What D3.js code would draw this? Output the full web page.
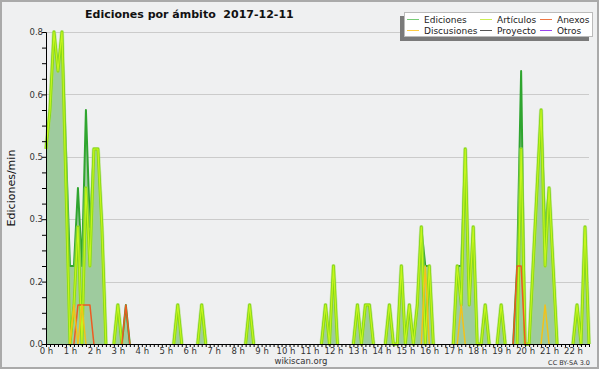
<!DOCTYPE html>
<html>
<head>
<meta charset="utf-8">
<script src="https://cdn.jsdelivr.net/npm/d3@7"></script>
<style>
  body { margin: 0; background: #fff; }
  svg { display: block; font-family: 'DejaVu Sans', sans-serif; }
</style>
</head>
<body>
<div class="chart_container"></div>
<script>
'use strict';

// edits per minute, one value per 10 minute bin, one row per hour (0 h .. 22 h)
const ediciones = [
  0.5, 0.6, 0.8, 0.7, 0.8, 0.5,
  0.2, 0.2, 0.4, 0.2, 0.6, 0.3,
  0.5, 0.5, 0.3, 0, 0, 0,
  0.1, 0, 0.1, 0, 0, 0,
  0, 0, 0, 0, 0, 0,
  0, 0, 0, 0.1, 0, 0,
  0, 0, 0, 0.1, 0, 0,
  0, 0, 0, 0, 0, 0,
  0, 0, 0, 0.1, 0, 0,
  0, 0, 0, 0, 0, 0,
  0, 0, 0, 0, 0, 0,
  0, 0, 0, 0, 0.1, 0,
  0.2, 0, 0, 0, 0, 0,
  0.1, 0, 0.1, 0.1, 0, 0,
  0, 0, 0.1, 0, 0, 0.2,
  0, 0.1, 0, 0.1, 0.3, 0.2,
  0.2, 0, 0, 0, 0, 0,
  0, 0.2, 0.2, 0.5, 0.1, 0.3,
  0, 0, 0.1, 0, 0, 0,
  0.1, 0, 0, 0, 0.2, 0.7,
  0, 0, 0.2, 0.4, 0.6, 0.3,
  0.4, 0.2, 0, 0, 0, 0,
  0, 0.1, 0, 0.3, 0
];

const articulos = [
  0.5, 0.6, 0.8, 0.7, 0.8, 0.4,
  0, 0.1, 0.3, 0, 0.4, 0.2,
  0.5, 0.5, 0.3, 0, 0, 0,
  0.1, 0, 0, 0, 0, 0,
  0, 0, 0, 0, 0, 0,
  0, 0, 0, 0.1, 0, 0,
  0, 0, 0, 0.1, 0, 0,
  0, 0, 0, 0, 0, 0,
  0, 0, 0, 0.1, 0, 0,
  0, 0, 0, 0, 0, 0,
  0, 0, 0, 0, 0, 0,
  0, 0, 0, 0, 0.1, 0,
  0.2, 0, 0, 0, 0, 0,
  0.1, 0, 0.1, 0.1, 0, 0,
  0, 0, 0.1, 0, 0, 0.2,
  0, 0.1, 0, 0.1, 0.3, 0,
  0.2, 0, 0, 0, 0, 0,
  0, 0.2, 0.1, 0.5, 0.1, 0.3,
  0, 0, 0.1, 0, 0, 0,
  0.1, 0, 0, 0, 0, 0.5,
  0, 0, 0.2, 0.4, 0.6, 0.2,
  0.4, 0.2, 0, 0, 0, 0,
  0, 0.1, 0, 0.3, 0
];

const anexos = [
  0, 0, 0, 0, 0, 0,
  0, 0, 0.1, 0.1, 0.1, 0.1,
  0, 0, 0, 0, 0, 0,
  0, 0, 0.1, 0, 0, 0,
  0, 0, 0, 0, 0, 0,
  0, 0, 0, 0, 0, 0,
  0, 0, 0, 0, 0, 0,
  0, 0, 0, 0, 0, 0,
  0, 0, 0, 0, 0, 0,
  0, 0, 0, 0, 0, 0,
  0, 0, 0, 0, 0, 0,
  0, 0, 0, 0, 0, 0,
  0, 0, 0, 0, 0, 0,
  0, 0, 0, 0, 0, 0,
  0, 0, 0, 0, 0, 0,
  0, 0, 0, 0, 0, 0,
  0, 0, 0, 0, 0, 0,
  0, 0, 0, 0, 0, 0,
  0, 0, 0, 0, 0, 0,
  0, 0, 0, 0, 0.2, 0.2,
  0, 0, 0, 0, 0, 0,
  0, 0, 0, 0, 0, 0,
  0, 0, 0, 0, 0
];

const discusiones = [
  0, 0, 0, 0, 0, 0,
  0, 0.1, 0, 0.1, 0, 0,
  0, 0, 0, 0, 0, 0,
  0, 0, 0, 0, 0, 0,
  0, 0, 0, 0, 0, 0,
  0, 0, 0, 0, 0, 0,
  0, 0, 0, 0, 0, 0,
  0, 0, 0, 0, 0, 0,
  0, 0, 0, 0, 0, 0,
  0, 0, 0, 0, 0, 0,
  0, 0, 0, 0, 0, 0,
  0, 0, 0, 0, 0, 0,
  0, 0, 0, 0, 0, 0,
  0, 0, 0, 0, 0, 0,
  0, 0, 0, 0, 0, 0,
  0, 0, 0, 0, 0, 0.2,
  0, 0, 0, 0, 0, 0,
  0, 0, 0.1, 0, 0, 0,
  0, 0, 0, 0, 0, 0,
  0, 0, 0, 0, 0, 0,
  0, 0, 0, 0, 0, 0.1,
  0, 0, 0, 0, 0, 0,
  0, 0, 0, 0, 0
];

const legendNames = ['Ediciones', 'Artículos', 'Anexos', 'Discusiones', 'Proyecto', 'Otros'];
const legendColors = ['#77cc77', '#ccee55', '#ee7744', '#ffcc44', '#555555', '#9944ee'];
const yTicks = [0, 0.16, 0.32, 0.48, 0.64, 0.8];
const hourLabels = ['0 h', '1 h', '2 h', '3 h', '4 h', '5 h', '6 h', '7 h', '8 h', '9 h', '10 h', '11 h',
  '12 h', '13 h', '14 h', '15 h', '16 h', '17 h', '18 h', '19 h', '20 h', '21 h', '22 h'];

const width = 600,
  height = 370,
  plotLeft = 46,
  plotRight = 589,
  plotTop = 32,
  plotBottom = 344,
  lastBin = 136;

const svg = d3.select('.chart_container')
  .append('svg')
  .attr('width', width)
  .attr('height', height);

svg.append('rect')
  .attr('x', 1).attr('y', 1)
  .attr('width', width - 3).attr('height', height - 3)
  .attr('fill', '#eff0f1')
  .attr('stroke', '#aaaaaa')
  .attr('stroke-width', 2);

const xScale = d3.scaleLinear().domain([0, lastBin]).range([plotLeft, plotRight]);
const yScale = d3.scaleLinear().domain([0, 0.8]).range([plotBottom, plotTop]);

// grid
svg.append('g')
  .selectAll('line')
  .data(yTicks.slice(1))
  .enter()
  .append('line')
  .attr('x1', plotLeft).attr('x2', plotRight)
  .attr('y1', d => Math.round(yScale(d)) + 0.5)
  .attr('y2', d => Math.round(yScale(d)) + 0.5)
  .attr('stroke', '#cbcbcb');

// total edits as area
const area = d3.area()
  .x((d, i) => xScale(i))
  .y0(yScale(0))
  .y1(d => yScale(d));

svg.append('path')
  .datum(ediciones)
  .attr('d', area)
  .attr('fill', '#9ecb9e');

// a line is only drawn where it leaves the zero level
const nearData = arr => (d, i) => d > 0 || arr[i - 1] > 0 || arr[i + 1] > 0;

const drawLine = (arr, color, w, opacity = 1) => {
  const line = d3.line()
    .defined(nearData(arr))
    .x((d, i) => xScale(i))
    .y(d => yScale(d));

  svg.append('path')
    .datum(arr)
    .attr('d', line)
    .attr('fill', 'none')
    .attr('stroke', color)
    .attr('stroke-width', w)
    .attr('stroke-opacity', opacity)
    .attr('stroke-linejoin', 'round');
};

drawLine(ediciones, '#2fa52f', 2);
// articles line has a soft glow
drawLine(articulos, '#a8dc6a', 4.2, 0.6);
drawLine(articulos, '#86d814', 2.8);
drawLine(articulos, '#c6f51e', 1.2);
drawLine(anexos, '#ee5a22', 1.5);
drawLine(discusiones, '#f2c21a', 1.5);

// axes
const yAxis = d3.axisLeft(yScale)
  .tickValues(d3.range(0, 0.8001, 0.04))
  .tickSize(4)
  .tickFormat(d => yTicks.some(t => Math.abs(t - d) < 1e-6) ? d3.format('.1f')(d) : '');

svg.append('g')
  .attr('transform', `translate(${plotLeft}, 0)`)
  .call(yAxis)
  .call(g => g.select('.domain').attr('stroke', '#000'))
  .call(g => g.selectAll('.tick line').attr('stroke', '#000'))
  .call(g => g.selectAll('.tick text')
    .attr('font-family', 'DejaVu Sans')
    .attr('font-size', 8.5)
    .attr('fill', '#333')
    .attr('x', -3));

const xAxis = d3.axisBottom(xScale)
  .tickValues(d3.range(0, lastBin + 1))
  .tickSize(3)
  .tickSizeOuter(0)
  .tickFormat(d => d % 6 === 0 ? hourLabels[d / 6] : '');

svg.append('g')
  .attr('transform', `translate(0, ${plotBottom})`)
  .call(xAxis)
  .call(g => g.select('.domain').attr('stroke', '#000'))
  .call(g => g.selectAll('.tick line').attr('stroke', '#000'))
  .call(g => g.selectAll('.tick text')
    .attr('font-family', 'DejaVu Sans')
    .attr('font-size', 8.5)
    .attr('fill', '#333')
    .attr('y', 4));

// texts
svg.append('text')
  .attr('x', 85).attr('y', 18)
  .attr('font-size', 11)
  .attr('font-weight', 'bold')
  .attr('fill', '#111')
  .attr('xml:space', 'preserve')
  .text('Ediciones por ámbito  2017-12-11');

svg.append('text')
  .attr('transform', 'translate(15, 188) rotate(-90)')
  .attr('text-anchor', 'middle')
  .attr('font-size', 11)
  .attr('fill', '#111')
  .text('Ediciones/min');

svg.append('text')
  .attr('x', 301).attr('y', 364)
  .attr('text-anchor', 'middle')
  .attr('font-size', 8.5)
  .attr('fill', '#333')
  .text('wikiscan.org');

svg.append('text')
  .attr('x', 590).attr('y', 365)
  .attr('text-anchor', 'end')
  .attr('font-size', 6.5)
  .attr('fill', '#333')
  .text('CC BY-SA 3.0');

// legend
const legend = svg.append('g');

legend.append('rect')
  .attr('x', 400).attr('y', 16)
  .attr('width', 189).attr('height', 25)
  .attr('fill', '#7a7a7a');

legend.append('rect')
  .attr('x', 404.5).attr('y', 12.5)
  .attr('width', 188).attr('height', 24)
  .attr('fill', '#fff')
  .attr('stroke', '#bbb');

const colX = [407, 480, 540];
const rowY = [19, 30];

legendNames.forEach((name, i) => {
  const cx = colX[i % 3],
    cy = rowY[Math.floor(i / 3)];

  legend.append('line')
    .attr('x1', cx).attr('x2', cx + 12)
    .attr('y1', cy + 0.5).attr('y2', cy + 0.5)
    .attr('stroke', legendColors[i]);

  legend.append('text')
    .attr('x', cx + 17).attr('y', cy + 3.5)
    .attr('font-size', 9)
    .attr('fill', '#222')
    .text(name);
});
</script>
</body>
</html>
